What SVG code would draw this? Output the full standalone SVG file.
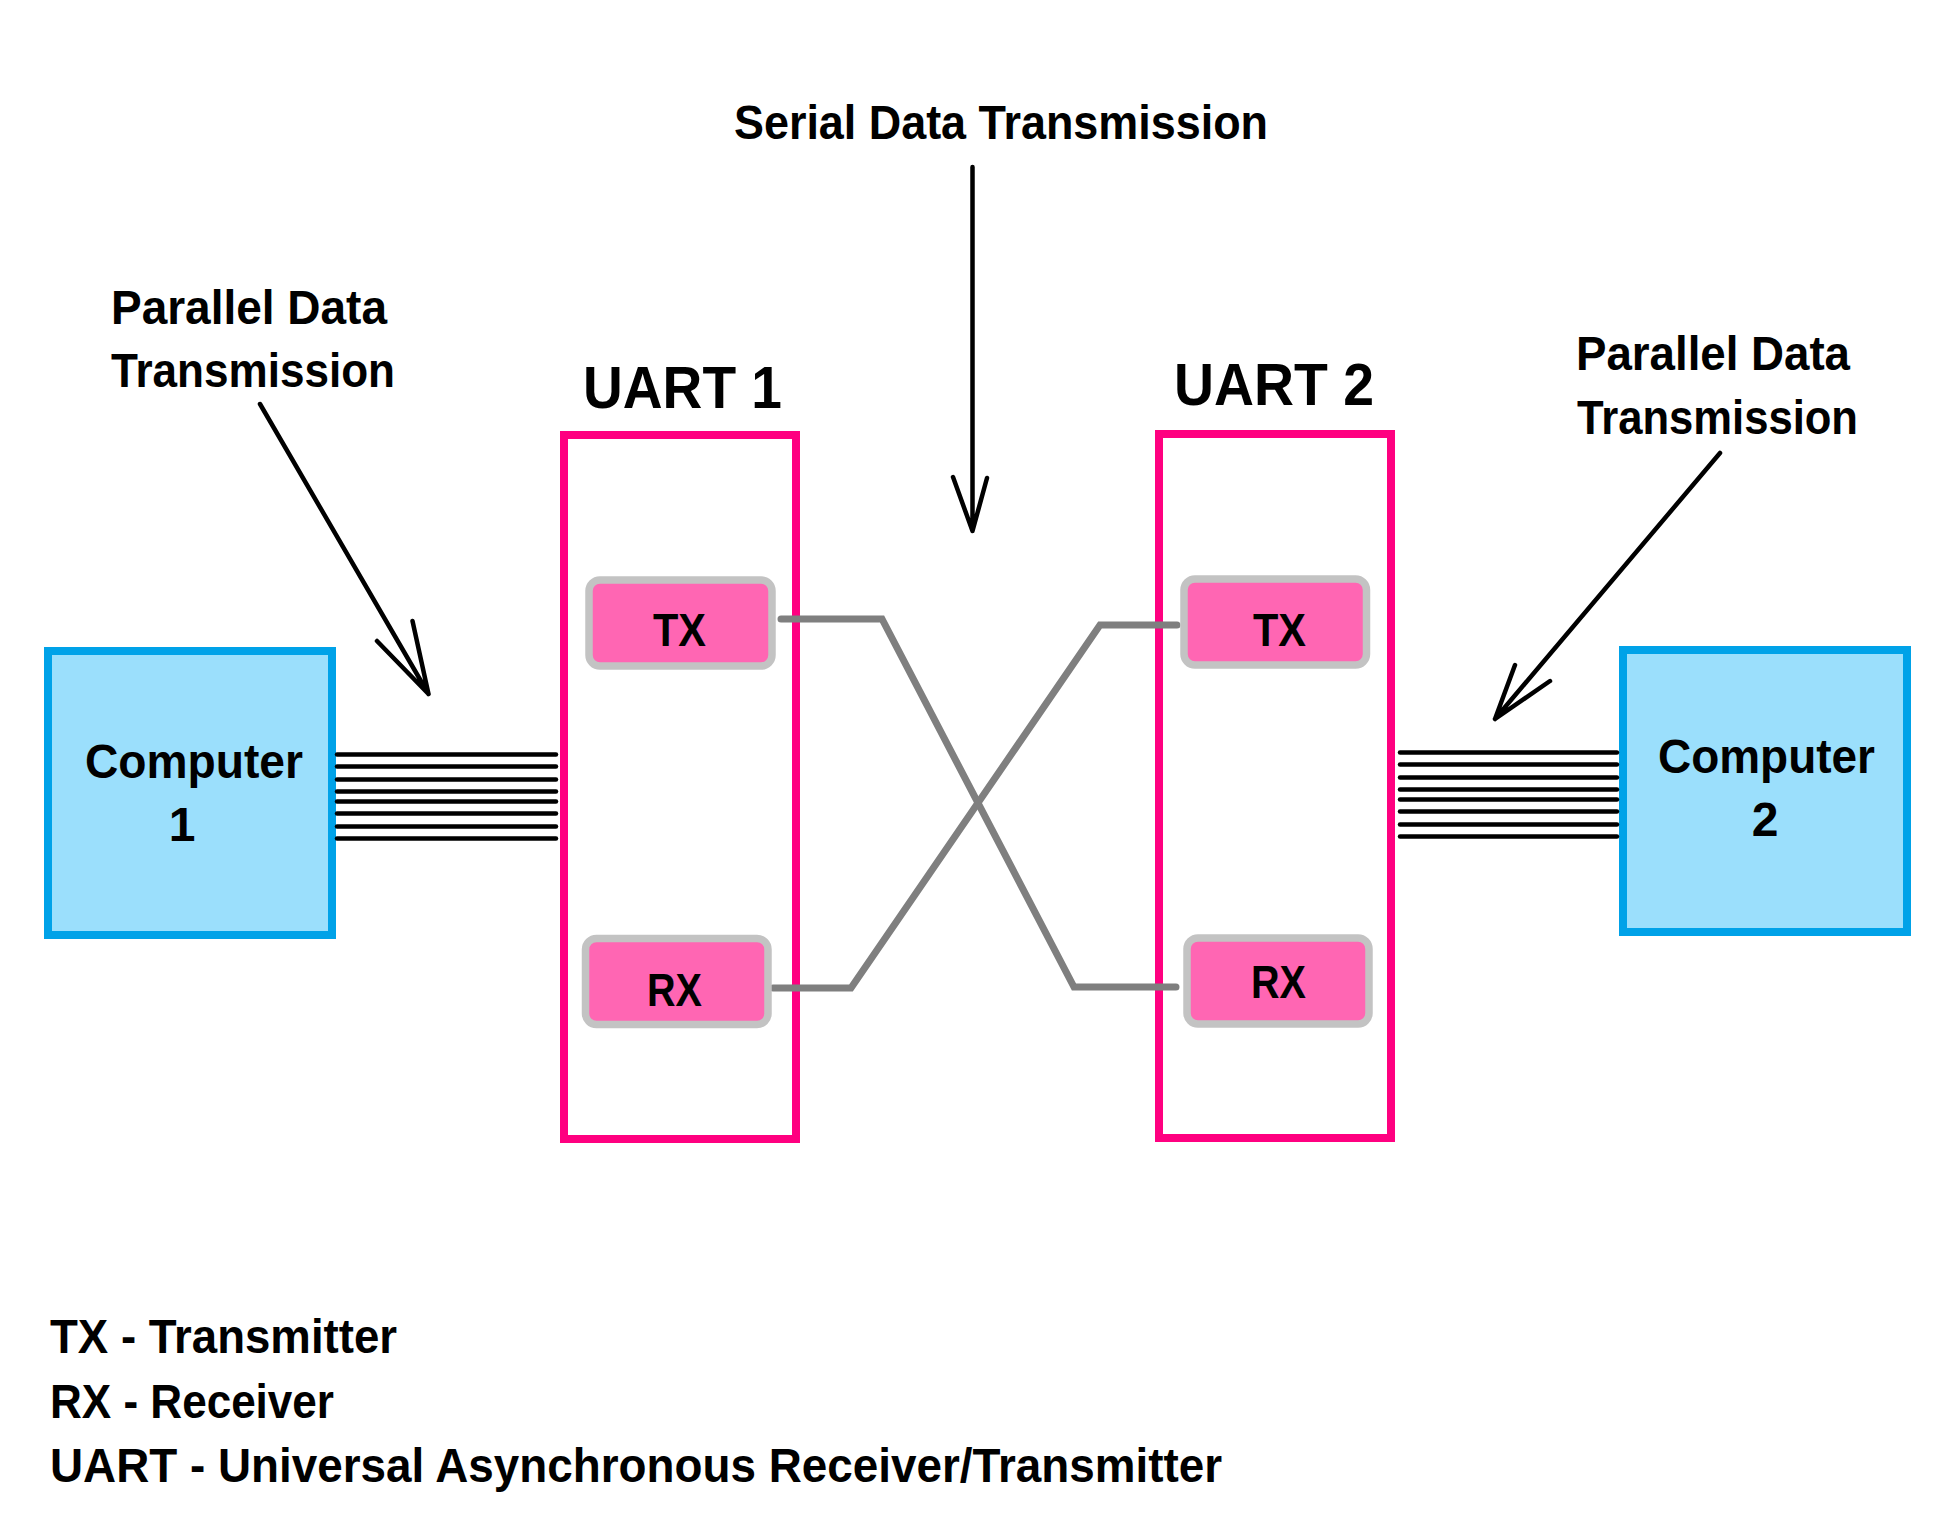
<svg xmlns="http://www.w3.org/2000/svg" width="1957" height="1519" viewBox="0 0 1957 1519">
<style>
text{font-family:"Liberation Sans",Arial,sans-serif;font-weight:bold;fill:#000}
.lbl{font-size:48px}
.uart-t{font-size:59px}
.pin-t{font-size:46px}
.comp{fill:#9BDFFC;stroke:#00A2E8;stroke-width:8}
.uart{fill:#fff;stroke:#FF0080;stroke-width:8}
.pin{fill:#FF66B3;stroke:#C3C3C3;stroke-width:7.5}
.wire{fill:none;stroke:#7F7F7F;stroke-width:7;stroke-linecap:round;stroke-linejoin:miter}
.bus{stroke:#000;stroke-width:4.5;stroke-linecap:round}
.arr{fill:none;stroke:#000;stroke-width:4.5;stroke-linecap:round;stroke-linejoin:round}
</style>
<rect width="1957" height="1519" fill="#fff"/>

<g id="label-serial">
<text class="lbl" x="734" y="139" textLength="534" lengthAdjust="spacingAndGlyphs">Serial Data Transmission</text>
</g>
<g id="label-parallel-left">
<text class="lbl" x="111" y="324" textLength="276" lengthAdjust="spacingAndGlyphs">Parallel Data</text>
<text class="lbl" x="111" y="387" textLength="284" lengthAdjust="spacingAndGlyphs">Transmission</text>
</g>
<g id="label-parallel-right">
<text class="lbl" x="1576" y="370" textLength="274" lengthAdjust="spacingAndGlyphs">Parallel Data</text>
<text class="lbl" x="1577" y="434" textLength="281" lengthAdjust="spacingAndGlyphs">Transmission</text>
</g>

<g id="computer1">
<rect class="comp" x="48" y="651" width="284" height="284"/>
<text class="lbl" x="85" y="778" textLength="218" lengthAdjust="spacingAndGlyphs">Computer</text>
<text class="lbl" x="182" y="841" text-anchor="middle">1</text>
</g>
<g id="computer2">
<rect class="comp" x="1623" y="650" width="284" height="282"/>
<text class="lbl" x="1658" y="773" textLength="217" lengthAdjust="spacingAndGlyphs">Computer</text>
<text class="lbl" x="1765" y="836" text-anchor="middle">2</text>
</g>

<g id="uart1">
<text class="uart-t" x="583" y="408" textLength="199" lengthAdjust="spacingAndGlyphs">UART 1</text>
<rect class="uart" x="564" y="435" width="232" height="704"/>
</g>
<g id="uart2">
<text class="uart-t" x="1174" y="405" textLength="200" lengthAdjust="spacingAndGlyphs">UART 2</text>
<rect class="uart" x="1159" y="434" width="232" height="704"/>
</g>

<g id="connectors">
<path class="wire" d="M781,619 H882 L1074,987 H1176"/>
<path class="wire" d="M773,988 H851 L1100,625 H1177"/>
<g id="bus-left">
<line class="bus" x1="337" y1="754.5" x2="556" y2="754.5"/>
<line class="bus" x1="337" y1="766.5" x2="556" y2="766.5"/>
<line class="bus" x1="337" y1="779.5" x2="556" y2="779.5"/>
<line class="bus" x1="337" y1="791.5" x2="556" y2="791.5"/>
<line class="bus" x1="337" y1="801.5" x2="556" y2="801.5"/>
<line class="bus" x1="337" y1="813.5" x2="556" y2="813.5"/>
<line class="bus" x1="337" y1="826.5" x2="556" y2="826.5"/>
<line class="bus" x1="337" y1="838.5" x2="556" y2="838.5"/>
</g>
<g id="bus-right">
<line class="bus" x1="1400" y1="752.5" x2="1617" y2="752.5"/>
<line class="bus" x1="1400" y1="764.5" x2="1617" y2="764.5"/>
<line class="bus" x1="1400" y1="777.5" x2="1617" y2="777.5"/>
<line class="bus" x1="1400" y1="789.5" x2="1617" y2="789.5"/>
<line class="bus" x1="1400" y1="799.5" x2="1617" y2="799.5"/>
<line class="bus" x1="1400" y1="811.5" x2="1617" y2="811.5"/>
<line class="bus" x1="1400" y1="824.5" x2="1617" y2="824.5"/>
<line class="bus" x1="1400" y1="836.5" x2="1617" y2="836.5"/>
</g>
<g id="pointer-arrows">
<path class="arr" d="M972.5,167 V531 M953,477 L972.5,531 L987,478"/>
<path class="arr" d="M260,404 L428.5,694 M377,641 L428.5,694 L412.5,621"/>
<path class="arr" d="M1720,453 L1495,719 M1515,665 L1495,719 L1550,681"/>
</g>
</g>

<g id="uart1-tx">
<rect class="pin" x="589" y="580" width="183" height="86" rx="11"/>
<text class="pin-t" x="653" y="646" textLength="53" lengthAdjust="spacingAndGlyphs">TX</text>
</g>
<g id="uart1-rx">
<rect class="pin" x="585.5" y="938.5" width="182.5" height="86" rx="11"/>
<text class="pin-t" x="647" y="1006" textLength="55" lengthAdjust="spacingAndGlyphs">RX</text>
</g>
<g id="uart2-tx">
<rect class="pin" x="1184" y="579" width="182.5" height="86" rx="11"/>
<text class="pin-t" x="1253" y="646" textLength="53" lengthAdjust="spacingAndGlyphs">TX</text>
</g>
<g id="uart2-rx">
<rect class="pin" x="1187" y="938" width="182" height="86" rx="11"/>
<text class="pin-t" x="1251" y="998" textLength="55" lengthAdjust="spacingAndGlyphs">RX</text>
</g>

<g id="legend">
<text class="lbl" x="50" y="1353" textLength="347" lengthAdjust="spacingAndGlyphs">TX - Transmitter</text>
<text class="lbl" x="50" y="1418" textLength="284" lengthAdjust="spacingAndGlyphs">RX - Receiver</text>
<text class="lbl" x="50" y="1482" textLength="1172" lengthAdjust="spacingAndGlyphs">UART - Universal Asynchronous Receiver/Transmitter</text>
</g>
</svg>
